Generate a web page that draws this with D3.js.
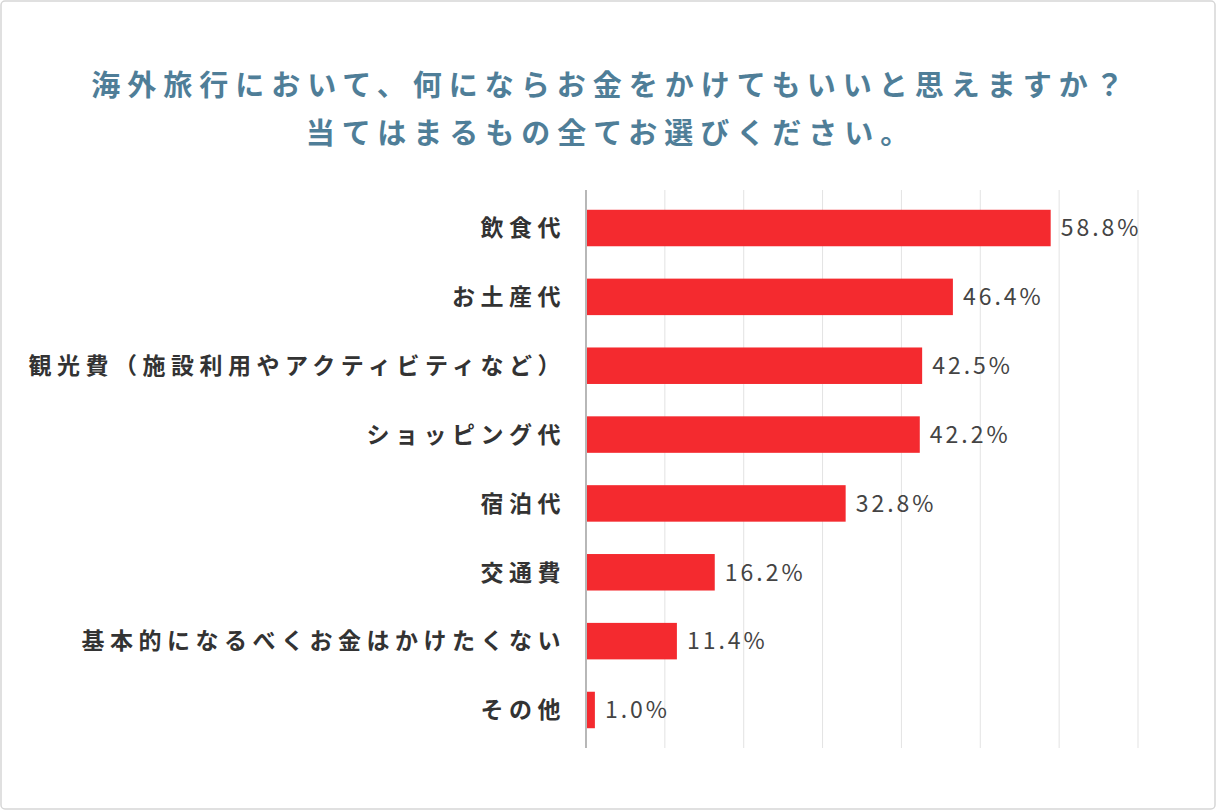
<!DOCTYPE html>
<html><head><meta charset="utf-8">
<script src="https://cdn.jsdelivr.net/npm/d3@7"></script>
<style>body{margin:0;background:#fff}text{font-family:"Noto Sans CJK JP","Noto Sans",sans-serif}</style>
</head><body><svg id="svg" width="1216" height="810"></svg>
<script>
"use strict";
const categories = ["飲食代","お土産代","観光費（施設利用やアクティビティなど）","ショッピング代","宿泊代","交通費","基本的になるべくお金はかけたくない","その他"];
const values = [58.8,46.4,42.5,42.2,32.8,16.2,11.4,1.0];
const gridTicks = [10,20,30,40,50,60,70];
const titleLines = ["海外旅行において、何にならお金をかけてもいいと思えますか？","当てはまるもの全てお選びください。"];

var svg = d3.select("svg");
svg.append("rect").attr("x",1).attr("y",1).attr("width",1214).attr("height",808)
    .attr("fill","#fff").attr("stroke","#d6d6d6").attr("stroke-width",1.5).attr("rx",4);

svg.selectAll(".title").data(titleLines).enter().append("text")
    .attr("x",611).attr("y",(d,i)=>96+i*48).attr("text-anchor","middle")
    .attr("font-size",29).attr("font-weight","bold").attr("fill","#4f7e98")
    .attr("letter-spacing",7).text(d=>d);

var x = d3.scaleLinear().domain([0,70]).range([586,1138]);
var y = d3.scaleBand().domain(categories).range([196,742]).paddingInner(0.47).paddingOuter(0.2);

svg.selectAll(".grid").data(gridTicks).enter().append("line")
    .attr("x1",d=>x(d)).attr("x2",d=>x(d)).attr("y1",190).attr("y2",748)
    .attr("stroke","#e3e3e3").attr("stroke-width",1);
svg.append("line").attr("x1",x(0)).attr("x2",x(0)).attr("y1",190).attr("y2",748)
    .attr("stroke","#888").attr("stroke-width",1.2);

svg.selectAll(".bar").data(values).enter().append("rect")
    .attr("x",x(0)+1).attr("y",(d,i)=>y(categories[i]))
    .attr("width",d=>x(d)-x(0)).attr("height",y.bandwidth()).attr("fill","#f42a2f");

svg.selectAll(".val").data(values).enter().append("text")
    .attr("x",d=>x(d)+11).attr("y",(d,i)=>y(categories[i])+y.bandwidth()/2)
    .attr("dy","0.36em").attr("font-size",23).attr("letter-spacing",3).attr("fill","#444")
    .text(d=>d.toFixed(1)+"%");

svg.selectAll(".cat").data(categories).enter().append("text")
    .attr("x",566).attr("y",d=>y(d)+y.bandwidth()/2).attr("dy","0.36em")
    .attr("text-anchor","end").attr("font-size",23).attr("font-weight","bold").attr("fill","#333")
    .attr("letter-spacing",5.5)
    .text(d=>d);
</script></body></html>
